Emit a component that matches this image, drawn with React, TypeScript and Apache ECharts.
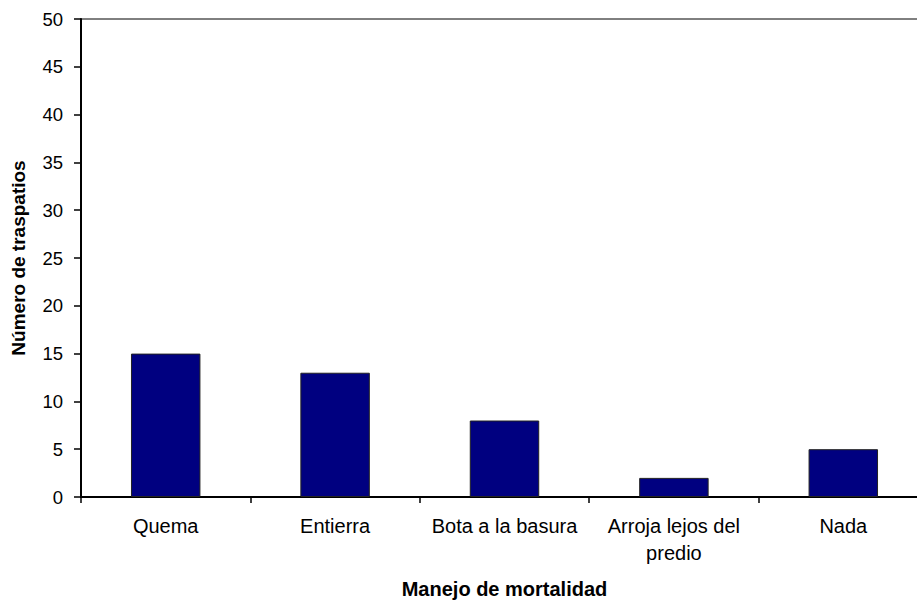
import React, { useEffect, useRef } from "react";
import * as echarts from "echarts";

const categories = ["Quema", "Entierra", "Bota a la basura", "Arroja lejos del\npredio", "Nada"];
const values = [15, 13, 8, 2, 5];
const yTicks = { min: 0, max: 50, interval: 5 };

export default function App() {
  const ref = useRef<HTMLDivElement>(null);

  useEffect(() => {
    if (!ref.current) return;
    const chart = echarts.init(ref.current, null, { renderer: "svg" });
    const font = "Liberation Sans, Arial, sans-serif";
    chart.setOption({
      animation: false,
      backgroundColor: "#ffffff",
      textStyle: { fontFamily: font },
      grid: {
        left: 81,
        top: 19,
        width: 847,
        height: 482,
        show: true,
        borderColor: "#000000",
        borderWidth: 1,
        backgroundColor: "transparent",
      },
      xAxis: {
        type: "category",
        data: categories,
        name: "Manejo de mortalidad",
        nameLocation: "middle",
        nameGap: 82,
        nameTextStyle: { fontFamily: font, fontWeight: "bold", fontSize: 20, color: "#000" },
        axisLine: { lineStyle: { color: "#000", width: 2 } },
        axisTick: { show: true, interval: 0, length: 6, lineStyle: { color: "#000", width: 1.5 } },
        axisLabel: {
          color: "#000",
          fontSize: 20,
          fontFamily: font,
          margin: 15,
          lineHeight: 27,
          interval: 0,
          hideOverlap: false,
        },
        splitLine: { show: false },
      },
      yAxis: {
        type: "value",
        min: yTicks.min,
        max: yTicks.max,
        interval: yTicks.interval,
        name: "Número de traspatios",
        nameLocation: "middle",
        nameGap: 53,
        nameRotate: 90,
        nameTextStyle: { fontFamily: font, fontWeight: "bold", fontSize: 19, color: "#000" },
        axisLine: { show: true, lineStyle: { color: "#000", width: 2 } },
        axisTick: { show: true, length: 7, lineStyle: { color: "#000", width: 1.5 } },
        axisLabel: { color: "#000", fontSize: 18.5, fontFamily: font, margin: 18 },
        splitLine: { show: false },
      },
      series: [
        {
          type: "bar",
          data: values,
          barWidth: "41%",
          itemStyle: { color: "#000080", borderColor: "#222222", borderWidth: 1 },
        },
      ],
    });
    return () => chart.dispose();
  }, []);

  // The plot frame runs slightly past the right edge, so the chart is wider than its clip box.
  return (
    <div style={{ position: "fixed", left: 0, top: 0, width: 917, height: 604, overflow: "hidden", background: "#fff" }}>
      <div ref={ref} style={{ width: 940, height: 604 }} />
    </div>
  );
}
